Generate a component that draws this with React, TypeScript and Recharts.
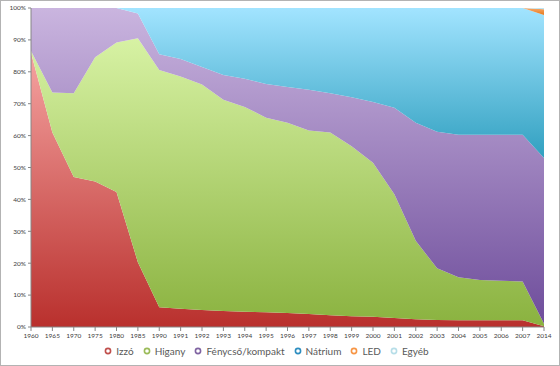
import React from 'react';
import { AreaChart, Area, XAxis, YAxis, Legend } from 'recharts';

const years = ['1960', '1965', '1970', '1975', '1980', '1985', '1990', '1991', '1992', '1993', '1994', '1995', '1996', '1997', '1998', '1999', '2000', '2001', '2002', '2003', '2004', '2005', '2006', '2007', '2014'];

const izzo = [86, 61, 47, 45.6, 42.3, 20.3, 6.2, 5.7, 5.3, 5.0, 4.8, 4.6, 4.4, 4.1, 3.7, 3.4, 3.2, 2.8, 2.4, 2.2, 2.1, 2.1, 2.1, 2.1, 0.2];
const higany = [0.5, 12.5, 26.3, 39, 46.9, 70.2, 74.4, 72.8, 70.7, 66.2, 64.2, 61, 59.6, 57.5, 57.3, 53.3, 48.3, 38.8, 24.6, 16.2, 13.5, 12.6, 12.4, 12.2, 0.8];
const fenycso = [13.5, 26.5, 26.7, 15.4, 10.8, 7.8, 4.9, 5.5, 5.5, 7.8, 8.8, 10.6, 11.2, 12.8, 12.3, 15.3, 19, 27.1, 37, 42.8, 44.7, 45.6, 45.8, 46, 52];
const natrium = [0, 0, 0, 0, 0, 1.7, 14.5, 16, 18.5, 21, 22.2, 23.8, 24.8, 25.6, 26.7, 28, 29.5, 31.3, 36, 38.8, 39.7, 39.7, 39.7, 39.7, 44.8];
const led = [0, 0, 0, 0, 0, 0, 0, 0, 0, 0, 0, 0, 0, 0, 0, 0, 0, 0, 0, 0, 0, 0, 0, 0, 1.8];
const egyeb = [0, 0, 0, 0, 0, 0, 0, 0, 0, 0, 0, 0, 0, 0, 0, 0, 0, 0, 0, 0, 0, 0, 0, 0, 0.4];

const yTicks = [0, 10, 20, 30, 40, 50, 60, 70, 80, 90, 100];

const series = [
  { key: 'Izzó', values: izzo, top: '#f5a3a1', bottom: '#b9302d', legend: '#c0504d' },
  { key: 'Higany', values: higany, top: '#d7f2a4', bottom: '#8ab23f', legend: '#9bbb59' },
  { key: 'Fénycső/kompakt', values: fenycso, top: '#cab5df', bottom: '#6e4d9b', legend: '#8064a2' },
  { key: 'Nátrium', values: natrium, top: '#a2e4ff', bottom: '#31a0c0', legend: '#2e8ec0' },
  { key: 'LED', values: led, top: '#f9a868', bottom: '#e3781c', legend: '#f79646' },
  { key: 'Egyéb', values: egyeb, top: '#c8ecf8', bottom: '#a9dbee', legend: '#b7dee8' },
];

const data = years.map((y, i) => {
  const row: any = { year: y };
  series.forEach(s => { row[s.key] = s.values[i]; });
  return row;
});

const font = 'Lato, "Open Sans", sans-serif';

function RingLegend() {
  return (
    <div style={{ display: 'flex', justifyContent: 'center', gap: 9, fontFamily: font, fontSize: 10, color: '#595959', paddingRight: 12 }}>
      {series.map(s => (
        <span key={s.key} style={{ display: 'inline-flex', alignItems: 'center' }}>
          <svg width={8} height={8} style={{ marginRight: 4 }}>
            <circle cx={4} cy={4} r={2.6} fill="#fff" stroke={s.legend} strokeWidth={1.6} />
          </svg>
          {s.key}
        </span>
      ))}
    </div>
  );
}

export default function App() {
  return (
    <div style={{ position: 'absolute', left: 0, top: 0, width: 558, height: 364, border: '1px solid #b3b3b3', background: '#fff' }}>
      <AreaChart width={558} height={364} data={data} margin={{ top: 7, right: 15, left: 0, bottom: 4 }}>
        <defs>
          {series.map((s, i) => (
            <linearGradient key={s.key} id={'g' + i} x1="0" y1="0" x2="0" y2="1">
              <stop offset="0%" stopColor={s.top} />
              <stop offset="100%" stopColor={s.bottom} />
            </linearGradient>
          ))}
        </defs>
        <XAxis
          dataKey="year"
          interval={0}
          tick={{ fontSize: 6.5, fill: '#404040', fontFamily: font }}
          tickSize={4}
          tickLine={{ stroke: '#868686' }}
          axisLine={{ stroke: '#868686' }}
          height={18}
        />
        <YAxis
          domain={[0, 100]}
          ticks={yTicks}
          tickFormatter={(v: number) => v + '%'}
          tick={{ fontSize: 6.5, fill: '#404040', fontFamily: font }}
          tickSize={3}
          tickLine={{ stroke: '#868686' }}
          axisLine={{ stroke: '#868686' }}
          width={30}
          allowDataOverflow
        />
        {series.map((s, i) => (
          <Area
            key={s.key}
            type="linear"
            dataKey={s.key}
            stackId="1"
            stroke="none"
            fill={'url(#g' + i + ')'}
            fillOpacity={1}
            isAnimationActive={false}
          />
        ))}
        <Legend verticalAlign="bottom" height={16} content={() => <RingLegend />} />
      </AreaChart>
    </div>
  );
}
